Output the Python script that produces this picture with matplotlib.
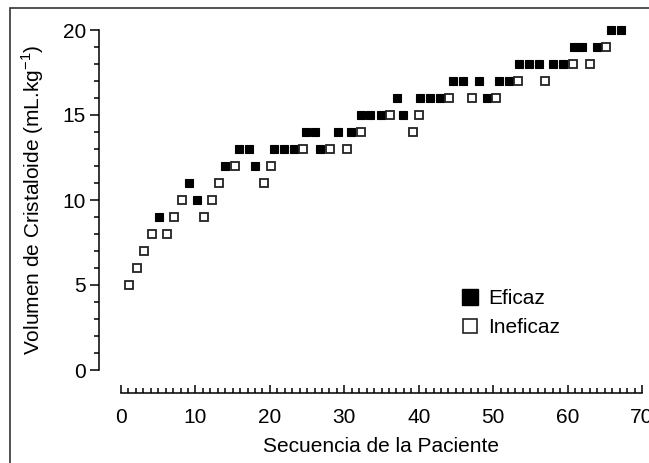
import numpy as np
import matplotlib
matplotlib.use('Agg')
import matplotlib.pyplot as plt
from matplotlib.lines import Line2D
from matplotlib.patches import Rectangle
from matplotlib.ticker import MultipleLocator, FixedLocator

plt.rcParams['font.family'] = ['Liberation Sans', 'DejaVu Sans']
plt.rcParams['mathtext.fontset'] = 'custom'
plt.rcParams['mathtext.rm'] = 'Liberation Sans'

# posicion en la secuencia, volumen y resultado
paciente = [1.1, 2.2, 3.1, 4.2, 5.1, 6.2, 7.1, 8.2, 9.1, 10.2,
            11.1, 12.2, 13.1, 14.0, 15.3, 15.9, 17.2, 18.0, 19.2, 20.2,
            20.6, 21.9, 23.2, 24.5, 24.8, 26.1, 26.7, 28.1, 29.1, 30.3,
            30.9, 32.2, 32.3, 33.5, 34.9, 36.2, 37.1, 37.9, 39.2, 40.1,
            40.2, 41.5, 42.9, 44.1, 44.6, 45.9, 47.1, 48.1, 49.2, 50.4,
            50.8, 52.1, 53.3, 53.5, 54.8, 56.1, 57.0, 58.1, 59.4, 60.7,
            60.8, 62.0, 63.0, 64.0, 65.2, 65.9, 67.2]
volumen = [5, 6, 7, 8, 9, 8, 9, 10, 11, 10,
           9, 10, 11, 12, 12, 13, 13, 12, 11, 12,
           13, 13, 13, 13, 14, 14, 13, 13, 14, 13,
           14, 14, 15, 15, 15, 15, 16, 15, 14, 15,
           16, 16, 16, 16, 17, 17, 16, 17, 16, 16,
           17, 17, 17, 18, 18, 18, 17, 18, 18, 18,
           19, 19, 18, 19, 19, 20, 20]
eficaz = [0, 0, 0, 0, 1, 0, 0, 0, 1, 1,
          0, 0, 0, 1, 0, 1, 1, 1, 0, 0,
          1, 1, 1, 0, 1, 1, 1, 0, 1, 0,
          1, 0, 1, 1, 1, 0, 1, 1, 0, 0,
          1, 1, 1, 0, 1, 1, 0, 1, 1, 0,
          1, 1, 0, 1, 1, 1, 0, 1, 1, 0,
          1, 1, 0, 1, 0, 1, 1]

x = np.array(paciente)
y = np.array(volumen)
ef = np.array(eficaz) == 1

W, H = 649, 463
fig = plt.figure(figsize=(W / 100, H / 100), dpi=100)
ax = fig.add_axes([99 / W, 93 / H, (642 - 99) / W, 340 / H])

ax.plot(x[ef], y[ef], 's', ms=6.2, mfc='black', mec='black', mew=0.8, clip_on=False)
ax.plot(x[~ef], y[~ef], 's', ms=5.8, mfc='white', mec='#222222', mew=1.3, clip_on=False)

ax.set_xlim(-2.96, 70)
ax.set_ylim(0, 20)
for s in ['top', 'right']:
    ax.spines[s].set_visible(False)
ax.spines['left'].set_bounds(0, 20)
ax.spines['bottom'].set_bounds(0, 70)
ax.spines['bottom'].set_position(('outward', 16.6))
for s in ['left', 'bottom']:
    ax.spines[s].set_linewidth(1.1)

ax.xaxis.set_major_locator(FixedLocator(range(0, 71, 10)))
ax.xaxis.set_minor_locator(FixedLocator(range(0, 71)))
ax.yaxis.set_major_locator(MultipleLocator(5))
ax.yaxis.set_minor_locator(MultipleLocator(1))
ax.tick_params(axis='x', which='both', direction='in', width=1.1, labelsize=15, pad=11)
ax.tick_params(axis='x', which='major', length=6)
ax.tick_params(axis='x', which='minor', length=3.5)
ax.tick_params(axis='y', which='both', direction='out', width=1.1, labelsize=15, pad=3)
ax.tick_params(axis='y', which='major', length=6.5)
ax.tick_params(axis='y', which='minor', length=3.5)

ax.set_xlabel('Secuencia de la Paciente', fontsize=15)
ax.xaxis.set_label_coords((381 - 99) / 543, (370 - 446) / 340)
ax.xaxis.label.set_va('center')
ax.set_ylabel(r'Volumen de Cristaloide (mL.kg$^{\mathregular{-1}}$)', fontsize=15)
ax.yaxis.set_label_coords((33 - 99) / 543, 0.5)
ax.yaxis.label.set_va('center')

handles = [Line2D([], [], marker='s', ls='none', ms=11, mfc='black', mec='black'),
           Line2D([], [], marker='s', ls='none', ms=10.5, mfc='white', mec='#222222', mew=1.2)]
ax.legend(handles, ['Eficaz', 'Ineficaz'], loc='upper left',
          bbox_to_anchor=(460 / W, 1 - 289 / H), bbox_transform=fig.transFigure,
          frameon=False, fontsize=15, borderpad=0, handlelength=1.0,
          handletextpad=0.35, labelspacing=0.5, borderaxespad=0)

fig.patches.append(Rectangle((10 / W, -0.1), 1.2, (H - 8) / H + 0.1,
                             transform=fig.transFigure, fill=False,
                             lw=1.2, ec='#333333'))

fig.savefig('out.png', dpi=100)
